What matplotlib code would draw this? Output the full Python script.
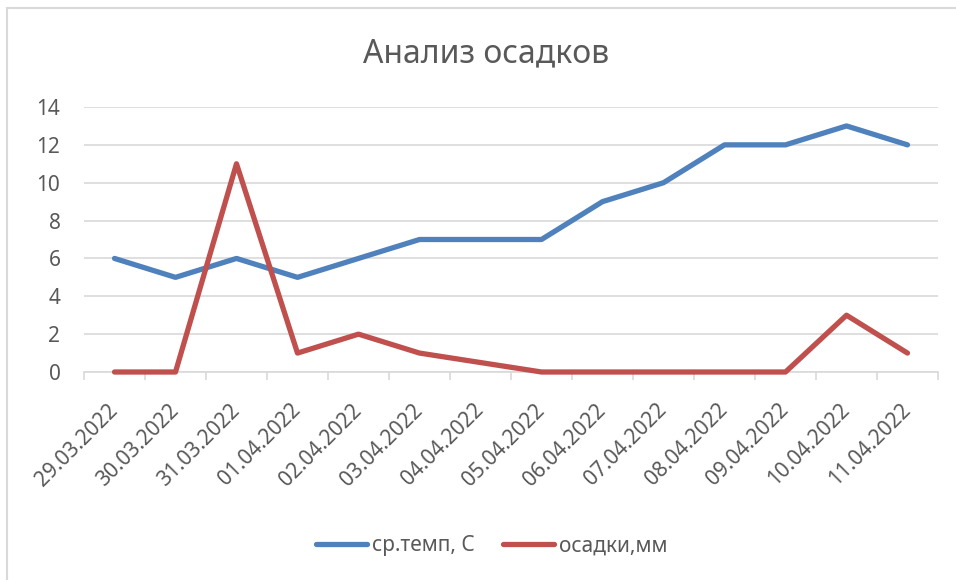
import matplotlib
matplotlib.use('Agg')
import matplotlib.pyplot as plt
import matplotlib.transforms as mtransforms
from matplotlib.patches import Rectangle
from matplotlib.lines import Line2D
import numpy as np

# данные с графика
dates = ['29.03.2022', '30.03.2022', '31.03.2022', '01.04.2022', '02.04.2022',
         '03.04.2022', '04.04.2022', '05.04.2022', '06.04.2022', '07.04.2022',
         '08.04.2022', '09.04.2022', '10.04.2022', '11.04.2022']
temp = [6, 5, 6, 5, 6, 7, 7, 7, 9, 10, 12, 12, 13, 12]
rain = [0, 0, 11, 1, 2, 1, 0.5, 0, 0, 0, 0, 0, 3, 1]
y_ticks = [0, 2, 4, 6, 8, 10, 12, 14]

plt.rcParams['font.family'] = ['Noto Sans', 'DejaVu Sans']
text_color = '#595959'
grid_color = '#d9d9d9'
blue = '#4F81BD'
red = '#C0504D'
fs = 15

W, H = 956, 580
fig = plt.figure(figsize=(W / 100, H / 100), dpi=100)
ax = fig.add_axes([84 / W, 1 - 372 / H, (938 - 84) / W, (372 - 107) / H])

x = np.arange(len(dates))
for series, col in [(temp, blue), (rain, red)]:
    ax.plot(x, series, color=col, lw=3.8, solid_capstyle='round',
            solid_joinstyle='round', zorder=3, clip_on=False)

ax.set_xlim(-0.5, len(dates) - 0.5)
ax.set_ylim(0, 14)
ax.set_yticks(y_ticks)
ax.set_yticklabels([str(v) for v in y_ticks])
ax.grid(axis='y', color=grid_color, lw=1.2)
ax.set_axisbelow(True)
for s in ['top', 'right', 'left']:
    ax.spines[s].set_visible(False)
ax.spines['bottom'].set_color(grid_color)
ax.spines['bottom'].set_linewidth(1.2)
ax.tick_params(axis='y', length=0, pad=17, labelsize=fs, labelcolor=text_color)

# деления между категориями
ax.set_xticks(np.arange(-0.5, len(dates), 1.0))
ax.set_xticklabels([])
ax.tick_params(axis='x', which='major', length=6, color=grid_color, width=1.2)
ax.set_xticks(x, minor=True)
ax.set_xticklabels(dates, minor=True, rotation=45, ha='right', va='top',
                   rotation_mode='anchor', fontsize=fs, color=text_color)
ax.tick_params(axis='x', which='minor', length=0, pad=20)
shift = mtransforms.ScaledTranslation(-0.07, 0, fig.dpi_scale_trans)
for lbl in ax.get_xticklabels(minor=True):
    lbl.set_transform(lbl.get_transform() + shift)

fig.text(486 / W, 1 - 54 / H, 'Анализ осадков', ha='center', va='center',
         fontsize=23, color=text_color)

handles = [Line2D([], [], color=blue, lw=3.8, solid_capstyle='round'),
           Line2D([], [], color=red, lw=3.8, solid_capstyle='round')]
fig.legend(handles, ['ср.темп, С', 'осадки,мм'], loc='center', ncol=2,
           bbox_to_anchor=(492 / W, 1 - 546 / H), frameon=False, fontsize=fs,
           labelcolor=text_color, handlelength=2.45, handletextpad=0.25,
           columnspacing=1.35)

# рамка диаграммы
fig.patches.append(Rectangle((7 / W, -0.05), 1.2, 1 - 8 / H + 0.05,
                             transform=fig.transFigure, fill=False,
                             edgecolor='#d9d9d9', lw=1.5))

fig.savefig('out.png', dpi=100)
